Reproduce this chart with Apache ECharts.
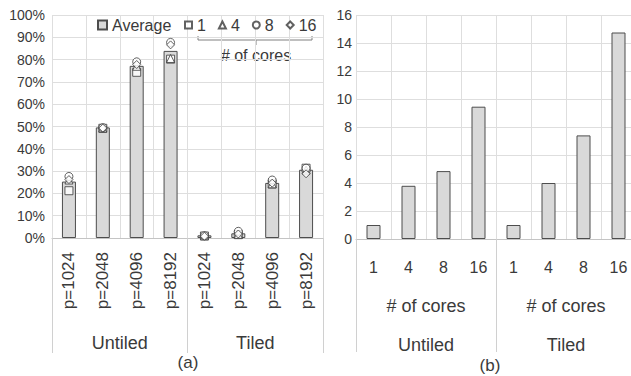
<!DOCTYPE html>
<html><head><meta charset="utf-8">
<script src="https://cdn.jsdelivr.net/npm/echarts@6/dist/echarts.min.js"></script>
<style>html,body{margin:0;padding:0;background:#fff}#c{width:631px;height:376px}</style>
</head><body><div id="c"></div>
<script>
// ---- data ----
const catsA = ['p=1024','p=2048','p=4096','p=8192','p=1024','p=2048','p=4096','p=8192'];
const groups = ['Untiled','Tiled'];
const yTicksA = [0,10,20,30,40,50,60,70,80,90,100];
const avgPct = [25.3, 49.6, 77.2, 83.9, 1.2, 2.1, 24.7, 30.6];
const core1 = [21.2, 49.2, 74.3, 80.2, 0.9, 1.5, 24.2, 31.3];
const core4 = [26.0, 49.3, 77.0, 80.5, 1.0, 1.6, 24.3, 30.5];
const core8 = [27.6, 49.5, 79.0, 87.7, 1.0, 3.0, 26.0, 31.3];
const core16 = [26.2, 49.3, 77.8, 86.6, 0.8, 1.8, 24.6, 28.8];
const coreCats = ['1','4','8','16','1','4','8','16'];
const coreGroupLabel = ['# of cores','# of cores'];
const speedup = [1, 3.8, 4.85, 9.45, 1, 4, 7.4, 14.75];
const yTicksB = [0,2,4,6,8,10,12,14,16];

const FONT = 'Liberation Sans';
const TXT = '#3a3a3a';
const GRID = '#dedede';
const chart = echarts.init(document.getElementById('c'), null, {renderer:'svg'});

function markerSeries(name, data, symbol, size){
  return {type:'scatter', name, data, xAxisIndex:0, yAxisIndex:0, symbol, symbolSize:size, z:5,
    itemStyle:{color:'#fff', borderColor:TXT, borderWidth:1}, emphasis:{disabled:true}, silent:true};
}

chart.setOption({
  animation:false,
  textStyle:{fontFamily:FONT},
  grid:[
    {left:52, top:15, width:271, height:223, outerBoundsMode:'none'},
    {left:356, top:15, width:280, height:224, outerBoundsMode:'none'}
  ],
  legend:[
    {data:[{name:'Average', icon:'rect'}], left:97, top:17, padding:0, itemWidth:9, itemHeight:9, itemGap:0, itemTextGap:4,
     textStyle:{fontSize:16, color:TXT, fontFamily:FONT}, selectedMode:false},
    {data:['1','4','8','16'], left:184, top:17, padding:0, itemWidth:7, itemHeight:7, itemGap:12, itemTextGap:5,
     textStyle:{fontSize:16, color:TXT, fontFamily:FONT}, selectedMode:false}
  ],
  xAxis:[
    {type:'category', gridIndex:0, data:catsA, position:'bottom',
     axisLine:{show:true, lineStyle:{color:'#c4c4c4'}}, axisTick:{show:false},
     axisLabel:{interval:0, rotate:90, margin:14, fontSize:17, color:TXT, fontFamily:FONT},
     splitLine:{show:true, interval:0, lineStyle:{color:GRID}}},
    {type:'category', gridIndex:0, data:groups, position:'bottom', offset:0,
     axisLine:{show:false}, axisTick:{show:true, interval:0, length:115, lineStyle:{color:'#d0d0d0'}},
     axisLabel:{interval:0, margin:96, fontSize:18, color:TXT, fontFamily:FONT}, splitLine:{show:false}},
    {type:'category', gridIndex:1, data:coreCats, position:'bottom',
     axisLine:{show:true, lineStyle:{color:'#c4c4c4'}}, axisTick:{show:false},
     axisLabel:{interval:0, margin:20, fontSize:16, color:TXT, fontFamily:FONT},
     splitLine:{show:true, interval:0, lineStyle:{color:GRID}}},
    {type:'category', gridIndex:1, data:coreGroupLabel, position:'bottom', offset:0,
     axisLine:{show:false}, axisTick:{show:false},
     axisLabel:{interval:0, margin:58, fontSize:18, color:TXT, fontFamily:FONT}, splitLine:{show:false}},
    {type:'category', gridIndex:1, data:groups, position:'bottom', offset:0,
     axisLine:{show:false}, axisTick:{show:true, interval:0, length:113, lineStyle:{color:'#d0d0d0'}},
     axisLabel:{interval:0, margin:97, fontSize:18, color:TXT, fontFamily:FONT}, splitLine:{show:false}}
  ],
  yAxis:[
    {type:'value', gridIndex:0, min:yTicksA[0], max:yTicksA[yTicksA.length-1], interval:yTicksA[1]-yTicksA[0],
     axisLine:{show:false}, axisTick:{show:false},
     axisLabel:{formatter:'{value}%', margin:7, fontSize:14, color:TXT, fontFamily:FONT},
     splitLine:{show:true, lineStyle:{color:GRID}}},
    {type:'value', gridIndex:1, min:yTicksB[0], max:yTicksB[yTicksB.length-1], interval:yTicksB[1]-yTicksB[0],
     axisLine:{show:false}, axisTick:{show:false},
     axisLabel:{margin:4, fontSize:14, color:TXT, fontFamily:FONT},
     splitLine:{show:true, lineStyle:{color:GRID}}}
  ],
  series:[
    {type:'bar', name:'Average', data:avgPct, xAxisIndex:0, yAxisIndex:0, barWidth:14, z:2,
     itemStyle:{color:'#d9d9d9', borderColor:'#4d4d4d', borderWidth:1}, silent:true},
    markerSeries('1', core1, 'rect', 8),
    markerSeries('4', core4, 'triangle', 8),
    markerSeries('8', core8, 'circle', 8),
    markerSeries('16', core16, 'diamond', 8),
    {type:'bar', name:'Speedup', data:speedup, xAxisIndex:2, yAxisIndex:1, barWidth:14, z:2,
     itemStyle:{color:'#d9d9d9', borderColor:'#4d4d4d', borderWidth:1}, silent:true}
  ],
  graphic:[
    {type:'polyline', shape:{points:[[198,36],[198,40],[312,40],[312,36]]}, style:{stroke:'#808080', fill:null, lineWidth:1}},
    {type:'line', shape:{x1:256,y1:40,x2:256,y2:45}, style:{stroke:'#808080', lineWidth:1}},
    {type:'text', x:256, y:55, style:{text:'# of cores', fontSize:16, fontFamily:FONT, fill:TXT, align:'center', verticalAlign:'middle'}},
    {type:'text', x:188, y:362, style:{text:'(a)', fontSize:17, fontFamily:FONT, fill:TXT, align:'center', verticalAlign:'middle'}},
    {type:'text', x:490, y:365, style:{text:'(b)', fontSize:17, fontFamily:FONT, fill:TXT, align:'center', verticalAlign:'middle'}}
  ]
});
</script></body></html>
